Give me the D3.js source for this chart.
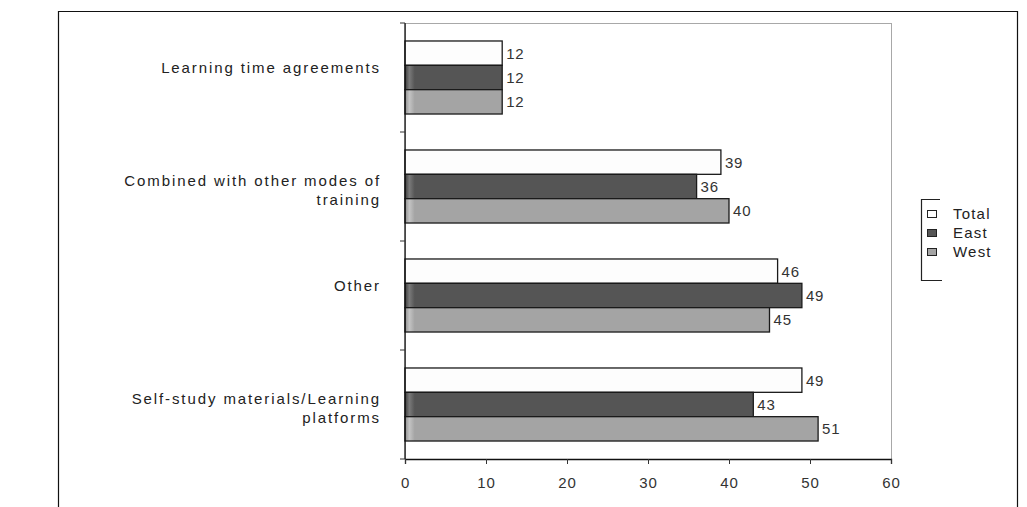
<!DOCTYPE html>
<html>
<head>
<meta charset="utf-8">
<script src="https://cdn.jsdelivr.net/npm/d3@7"></script>
<style>
  body { margin: 0; background: #fff; }
  text { font-family: "Liberation Sans", Arial, sans-serif; }
</style>
</head>
<body>
<div id="chart"></div>
<script>
// data
var categories = [
  ["Learning time agreements"],
  ["Combined with other modes of", "training"],
  ["Other"],
  ["Self-study materials/Learning", "platforms"]
];
var seriesNames = ["Total", "East", "West"];
var totalValues = [12, 39, 46, 49];
var eastValues = [12, 36, 49, 43];
var westValues = [12, 40, 45, 51];
var xTicks = [0, 10, 20, 30, 40, 50, 60];

var W = 1027, H = 507;
var plot = {left: 405, right: 891, top: 23, bottom: 459};

var svg = d3.select("#chart").append("svg")
  .attr("width", W).attr("height", H);

// gradients for the shaded bars
var defs = svg.append("defs");
function grad(id, edge, light, base) {
  var g = defs.append("linearGradient").attr("id", id)
    .attr("gradientUnits", "userSpaceOnUse")
    .attr("x1", plot.left).attr("x2", plot.right).attr("y1", 0).attr("y2", 0);
  g.append("stop").attr("offset", 0).attr("stop-color", edge);
  g.append("stop").attr("offset", 0.009).attr("stop-color", light);
  g.append("stop").attr("offset", 0.02).attr("stop-color", base);
  g.append("stop").attr("offset", 1).attr("stop-color", base);
}
grad("gEast", "#3c3c3c", "#7a7a7a", "#555555");
grad("gWest", "#8e8e8e", "#c4c4c4", "#a4a4a4");
var fills = {Total: "#fdfdfd", East: "url(#gEast)", West: "url(#gWest)"};
var swatch = {Total: "#ffffff", East: "#555555", West: "#a4a4a4"};

// outer frame
svg.append("path")
  .attr("d", "M58.5," + (H + 5) + "V11.5H1017.5V" + (H + 5))
  .attr("fill", "none").attr("stroke", "#111").attr("stroke-width", 1.2);

var x = d3.scaleLinear().domain([0, 60]).range([plot.left, plot.right]);
var y = d3.scaleBand().domain(d3.range(categories.length))
  .range([plot.top, plot.bottom]).paddingInner(0.33).paddingOuter(0.165);
var ySub = d3.scaleBand().domain(seriesNames).range([0, y.bandwidth()]);

// plot frame (grey)
svg.append("rect")
  .attr("x", plot.left + 0.5).attr("y", plot.top + 0.5)
  .attr("width", plot.right - plot.left).attr("height", plot.bottom - plot.top)
  .attr("fill", "none").attr("stroke", "#a8a8a8");

var rows = [];
categories.forEach(function(c, i) {
  [totalValues, eastValues, westValues].forEach(function(vals, j) {
    rows.push({cat: i, series: seriesNames[j], value: vals[i]});
  });
});

svg.append("g").selectAll("rect").data(rows).join("rect")
  .attr("x", x(0))
  .attr("y", d => y(d.cat) + ySub(d.series))
  .attr("width", d => x(d.value) - x(0))
  .attr("height", ySub.bandwidth())
  .attr("fill", d => fills[d.series])
  .attr("stroke", "#1a1a1a").attr("stroke-width", 1.3);

// value labels
svg.append("g").selectAll("text").data(rows).join("text")
  .attr("x", d => x(d.value) + 4)
  .attr("y", d => y(d.cat) + ySub(d.series) + ySub.bandwidth() / 2)
  .attr("dy", "0.36em")
  .attr("font-size", 15).attr("letter-spacing", 0.8)
  .attr("fill", "#333")
  .text(d => d.value);

// x axis
var xAxis = svg.append("g")
  .attr("transform", "translate(0," + plot.bottom + ")")
  .call(d3.axisBottom(x).tickValues(xTicks).tickSize(5).tickPadding(13));
xAxis.select(".domain").attr("stroke", "#111").attr("stroke-width", 1.3);
xAxis.selectAll(".tick line").attr("stroke", "#333");
xAxis.selectAll(".tick text")
  .attr("font-size", 15).attr("letter-spacing", 0.8)
  .attr("fill", "#333").attr("font-family", "Liberation Sans, Arial, sans-serif");

// y axis line and ticks at category boundaries
svg.append("line")
  .attr("x1", plot.left).attr("x2", plot.left)
  .attr("y1", plot.top).attr("y2", plot.bottom)
  .attr("stroke", "#111").attr("stroke-width", 1.3);
var bounds = d3.range(categories.length + 1)
  .map(i => plot.top + i * y.step());
svg.append("g").selectAll("line").data(bounds).join("line")
  .attr("x1", plot.left - 5).attr("x2", plot.left)
  .attr("y1", d => d).attr("y2", d => d)
  .attr("stroke", "#333");

// category labels
var catG = svg.append("g").selectAll("text").data(categories).join("text")
  .attr("text-anchor", "end")
  .attr("font-size", 15).attr("letter-spacing", 1.9)
  .attr("fill", "#222")
  .attr("y", (d, i) => y(i) + y.bandwidth() / 2 - (d.length > 1 ? 6 : 10));
catG.selectAll("tspan").data(d => d).join("tspan")
  .attr("x", 381)
  .attr("dy", (d, i) => i === 0 ? "0.36em" : 19)
  .text(d => d);

// legend
var leg = svg.append("g");
leg.append("path")
  .attr("d", "M940,199.5H921.5V280.5H942")
  .attr("fill", "none").attr("stroke", "#222").attr("stroke-width", 1.2);
var item = leg.selectAll("g").data(seriesNames).join("g")
  .attr("transform", (d, i) => "translate(0," + (214 + i * 19) + ")");
item.append("rect")
  .attr("x", 927.5).attr("y", -3.5).attr("width", 9).attr("height", 7)
  .attr("fill", d => swatch[d]).attr("stroke", "#222");
item.append("text")
  .attr("x", 953).attr("dy", "0.36em")
  .attr("font-size", 15).attr("letter-spacing", 1.2)
  .attr("fill", "#222")
  .text(d => d);
</script>
</body>
</html>
